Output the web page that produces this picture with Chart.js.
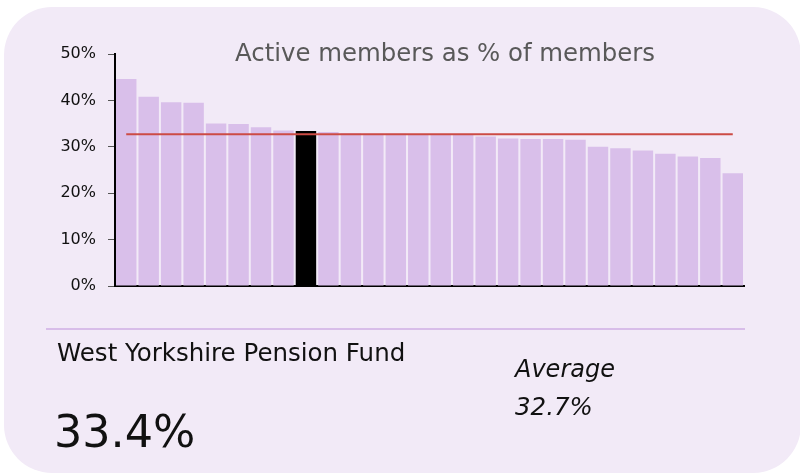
<!DOCTYPE html>
<html>
<head>
<meta charset="utf-8">
<script src="https://cdn.jsdelivr.net/npm/chart.js@4"></script>
<style>
  html, body { margin:0; padding:0; background:#ffffff; width:800px; height:474px; overflow:hidden; font-family:"DejaVu Sans", Verdana, sans-serif; }
  #card { position:absolute; left:4px; top:7px; width:797px; height:466px; border-radius:48px; background:#f2eaf7; }
  #wrap { position:absolute; left:0; top:0; width:800px; height:474px; }
  .txt { position:absolute; white-space:nowrap; line-height:normal; }
  #title { left:235px; top:38px; font-size:24.4px; color:#595959; }
  #divider { position:absolute; left:46px; top:328px; width:699px; height:2px; background:#d8bde9; }
  #fund { left:57px; top:338px; font-size:24.5px; color:#111; }
  #value { left:54px; top:406px; font-size:44.5px; color:#111; }
  #avgLabel { left:515px; top:355px; font-size:24px; font-style:italic; color:#111; }
  #avgValue { left:515px; top:392px; font-size:24.5px; font-style:italic; color:#111; }
</style>
</head>
<body>
<div id="card"></div>
<div id="wrap"><canvas id="c" width="800" height="474"></canvas></div>
<div class="txt" id="title">Active members as % of members</div>
<div id="divider"></div>
<div class="txt" id="fund">West Yorkshire Pension Fund</div>
<div class="txt" id="value">33.4%</div>
<div class="txt" id="avgLabel">Average</div>
<div class="txt" id="avgValue">32.7%</div>
<script>
const categories = ["Fund 1","Fund 2","Fund 3","Fund 4","Fund 5","Fund 6","Fund 7","Fund 8",
  "West Yorkshire Pension Fund","Fund 10","Fund 11","Fund 12","Fund 13","Fund 14","Fund 15","Fund 16",
  "Fund 17","Fund 18","Fund 19","Fund 20","Fund 21","Fund 22","Fund 23","Fund 24","Fund 25","Fund 26","Fund 27","Fund 28"];
const activePct = [44.6,40.8,39.6,39.5,35.0,34.9,34.2,33.5,33.4,33.2,32.9,32.8,32.8,32.7,32.6,32.6,
  32.2,31.8,31.7,31.7,31.5,30.0,29.7,29.2,28.5,27.9,27.6,24.3];
const averagePct = 32.7;
const highlightFund = "West Yorkshire Pension Fund";
const yTicks = [0,10,20,30,40,50];

const barColors = categories.map(c => c === highlightFund ? "#000000" : "#d9bfea");
const avgLine = categories.map(() => averagePct);

new Chart(document.getElementById("c"), {
  type: "bar",
  data: {
    labels: categories,
    datasets: [
      { type:"line", data: avgLine, borderColor:"#cc4b45", borderWidth:2, pointRadius:0, pointHoverRadius:0, order:0, fill:false, tension:0 },
      { type:"bar", data: activePct, backgroundColor: barColors, borderWidth:0, barPercentage:0.91, categoryPercentage:1.0, order:1 }
    ]
  },
  options: {
    responsive:false,
    animation:false,
    devicePixelRatio:1,
    layout: { padding: { left:0, top:54, right:56, bottom:188 } },
    plugins: { legend:{ display:false }, tooltip:{ enabled:false }, title:{ display:false } },
    scales: {
      x: {
        grid: { display:true, drawOnChartArea:false, drawTicks:false, color:"rgba(0,0,0,0)" },
        ticks: { display:false },
        border: { display:true, color:"#000000", width:2 },
        afterFit: s => { s.height = 0; }
      },
      y: {
        min:0, max:50,
        afterBuildTicks: s => { s.ticks = yTicks.map(v => ({ value:v })); },
        grid: { display:true, drawOnChartArea:false, drawTicks:true, tickLength:7, color:"#555555", lineWidth:1 },
        border: { display:true, color:"#000000", width:2 },
        ticks: { padding:12, color:"#111111", font:{ family:"DejaVu Sans", size:16 }, callback: v => v + "%" },
        afterFit: s => { s.width = 115; }
      }
    }
  }
});
</script>
</body>
</html>
